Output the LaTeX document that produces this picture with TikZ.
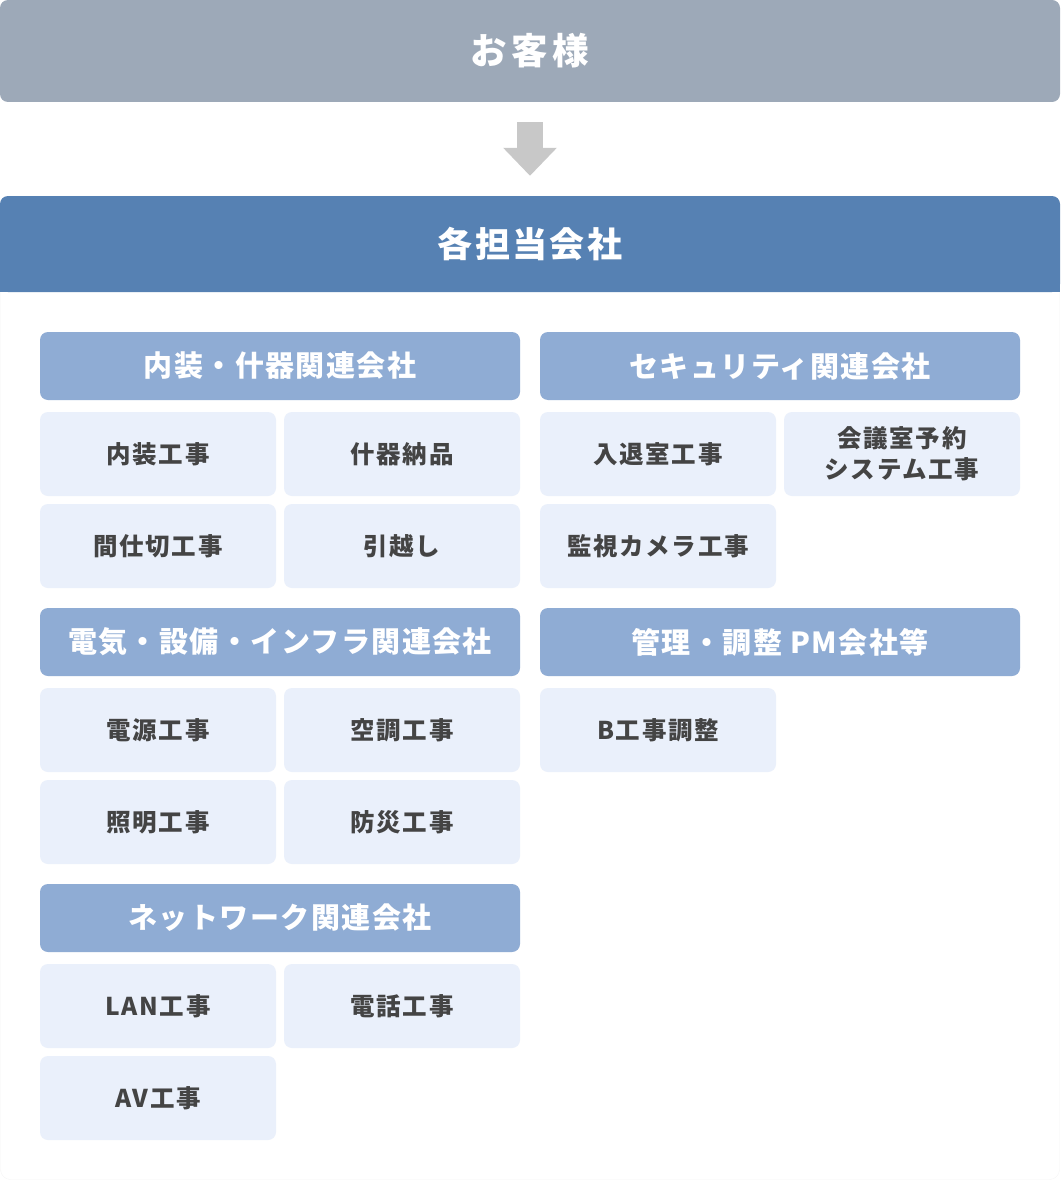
\documentclass[tikz,border=0pt]{standalone}
\usepackage{fontspec}
\setmainfont{Noto Sans CJK JP}
\newfontfamily\ftop{Noto Sans CJK JP}[LetterSpace=12]
\newfontfamily\fhdr{Noto Sans CJK JP}[LetterSpace=7]
\newfontfamily\fcat{Noto Sans CJK JP}[LetterSpace=5]
\newfontfamily\fitem{Noto Sans CJK JP}[LetterSpace=7]
\usetikzlibrary{arrows.meta}
\definecolor{topc}{HTML}{9DA9B8}
\definecolor{hdrc}{HTML}{5681B3}
\definecolor{catc}{HTML}{8FACD4}
\definecolor{itemc}{HTML}{EAF0FB}
\definecolor{txtc}{HTML}{444444}
\definecolor{arrc}{HTML}{C8C8C8}
\tikzset{
  topbox/.style={fill=topc, rounded corners=8pt, minimum width=1060pt, minimum height=102pt, inner sep=0pt, text=white, font=\ftop\bfseries\fontsize{36.5pt}{40pt}\selectfont},
  hdrtext/.style={minimum width=1060pt, minimum height=96pt, inner sep=0pt, text=white, font=\fhdr\bfseries\fontsize{35pt}{40pt}\selectfont},
  catbox/.style={fill=catc, rounded corners=8pt, minimum width=480pt, minimum height=68pt, inner sep=0pt, text=white, font=\fcat\bfseries\fontsize{29pt}{34pt}\selectfont},
  itembox/.style={fill=itemc, rounded corners=8pt, minimum width=236pt, minimum height=84pt, inner sep=0pt, text=txtc, align=center, font=\fitem\bfseries\fontsize{24.5pt}{31pt}\selectfont},
  arrowline/.style={draw=arrc, line width=26pt, -{Triangle[width=52pt,length=28pt]}, shorten <=20pt, shorten >=20pt}
}
\begin{document}
\begin{tikzpicture}[x=1pt,y=-1pt]
\useasboundingbox (0,0) rectangle (1060,1180);
% container
\draw[fill=white, draw=black!4, rounded corners=10pt] (0.5,196) rectangle (1059.5,1179.5);
% header band
\fill[hdrc, rounded corners=8pt] (0,196) rectangle (1060,292);
\fill[hdrc] (0,250) rectangle (1060,292);
\node[hdrtext] (hdr) at (530,244) {各担当会社};
% top
\node[topbox] (top) at (530,51) {お客様};
\draw[arrowline] (top.south) -- (hdr.north);
% categories
\node[catbox] (c1) at (280,366) {内装・什器関連会社};
\node[catbox] (c2) at (780,366) {セキュリティ関連会社};
\node[catbox] (c3) at (280,642) {電気・設備・インフラ関連会社};
\node[catbox] (c4) at (780,642) {管理・調整 PM会社等};
\node[catbox] (c5) at (280,918) {ネットワーク関連会社};
% items
\node[itembox] (i11) at (158,454) {内装工事};
\node[itembox] (i12) at (402,454) {什器納品};
\node[itembox] (i13) at (158,546) {間仕切工事};
\node[itembox] (i14) at (402,546) {引越し};
\node[itembox] (i21) at (658,454) {入退室工事};
\node[itembox] (i22) at (902,454) {会議室予約\\システム工事};
\node[itembox] (i23) at (658,546) {監視カメラ工事};
\node[itembox] (i31) at (158,730) {電源工事};
\node[itembox] (i32) at (402,730) {空調工事};
\node[itembox] (i33) at (158,822) {照明工事};
\node[itembox] (i34) at (402,822) {防災工事};
\node[itembox] (i41) at (658,730) {B工事調整};
\node[itembox] (i51) at (158,1006) {LAN工事};
\node[itembox] (i52) at (402,1006) {電話工事};
\node[itembox] (i53) at (158,1098) {AV工事};
\end{tikzpicture}
\end{document}
